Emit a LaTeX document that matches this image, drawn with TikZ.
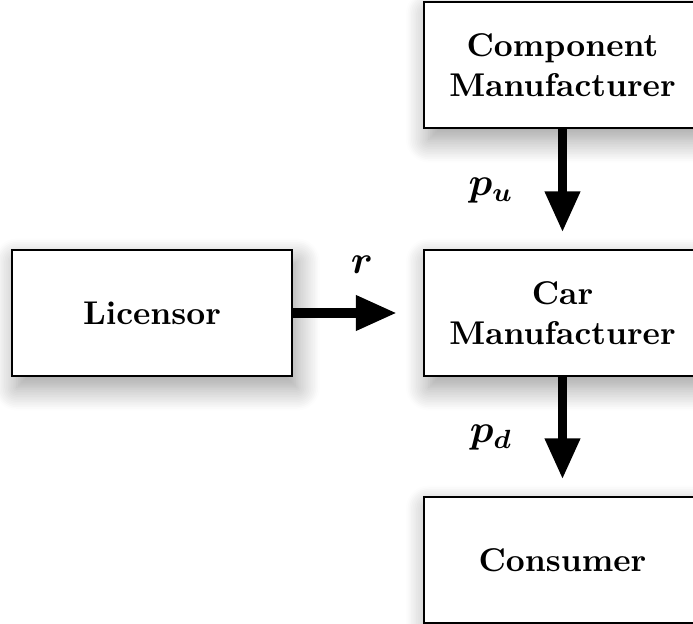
\documentclass[tikz,border=0pt]{standalone}
\usepackage{bm}
\usetikzlibrary{arrows.meta,shadows.blur}
\begin{document}
\begin{tikzpicture}[x=0.304pt,y=-0.304pt,
  block/.style={draw=black, line width=0.6pt, fill=white, align=center,
    font=\bfseries, inner sep=0pt, minimum height=38.3pt,
    blur shadow={shadow xshift=1.5pt, shadow yshift=-3.5pt, shadow blur radius=7pt, shadow blur steps=14, shadow opacity=40}},
  flow/.style={line width=3pt, -{Triangle[length=12.5pt,width=10pt]}},
  lbl/.style={inner sep=0pt, font=\large}]
\useasboundingbox (0,0) rectangle (693,624);
\node[block, minimum width=84.2pt] (comp) at (562.5,65) {Component\\Manufacturer};
\node[block, minimum width=84.2pt] (car) at (562.5,313) {Car\\Manufacturer};
\node[block, minimum width=84.2pt] (cons) at (562.5,560) {Consumer};
\node[block, minimum width=85.1pt] (lic) at (152,313) {Licensor};
\draw[flow, shorten >=5pt] (comp.south) -- (car.north);
\draw[flow, shorten >=5pt] (car.south) -- (cons.north);
\draw[flow, shorten >=7.9pt] (lic.east) -- (car.west);
\node[lbl] (pu) at (491,191) {$\bm{p_u}$};
\node[lbl] (r) at (362,265) {$\bm{r}$};
\node[lbl] (pd) at (491,438) {$\bm{p_d}$};
\end{tikzpicture}
\end{document}
